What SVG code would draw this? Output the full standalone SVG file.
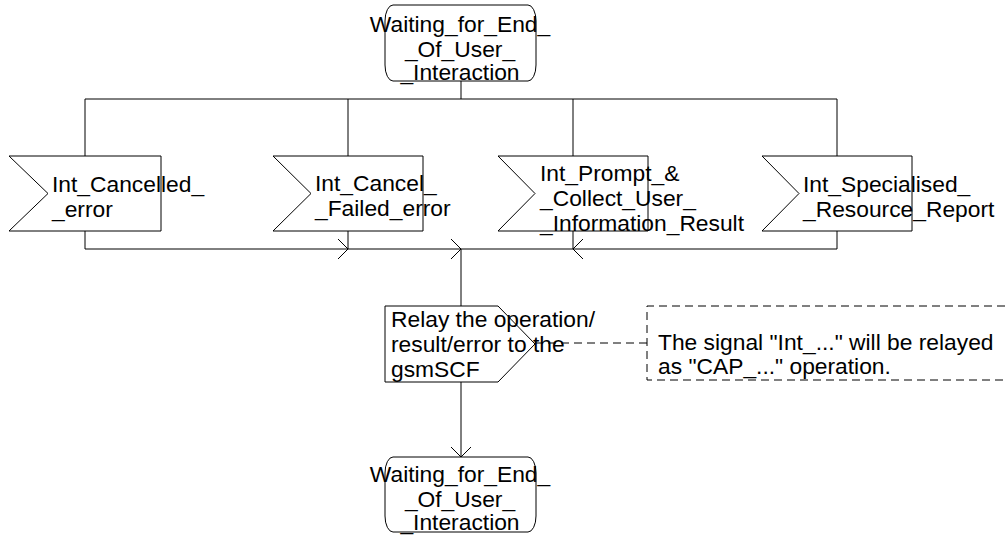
<svg xmlns="http://www.w3.org/2000/svg" width="1005" height="538" viewBox="0 0 1005 538">
<style>
.s{fill:#fff;stroke:#000;stroke-width:1}
.t{font-family:"Liberation Sans",Arial,sans-serif;font-size:22.8px;fill:#000}
.c{text-anchor:middle}
.l{fill:none;stroke:#000;stroke-width:1}
.d{fill:none;stroke:#000;stroke-width:1;stroke-dasharray:8,5}
</style>
<defs>
<marker id="arr" markerUnits="userSpaceOnUse" viewBox="0 0 22 22" markerWidth="22" markerHeight="22" refX="11" refY="11" orient="auto">
<path d="M1,1 L11,11 L1,21" fill="none" stroke="#000" stroke-width="1"/>
</marker>
</defs>
<g id="connectors">
<path class="l" d="M461,81 V99"/>
<path class="l" d="M85,99 H837"/>
<path class="l" d="M85,99 V156 M348,99 V156 M573,99 V156 M837,99 V156"/>
<path class="l" d="M85,231 V249 H348" marker-end="url(#arr)"/>
<path class="l" d="M348,231 V249 H461" marker-end="url(#arr)"/>
<path class="l" d="M837,231 V249 H573" marker-end="url(#arr)"/>
<path class="l" d="M573,231 V249 H461"/>
<path class="l" d="M461,249 V306"/>
<path class="l" d="M461,382 V457" marker-end="url(#arr)"/>
<path class="d" d="M535,343 H647"/>
</g>
<g id="state_top">
<rect class="s" x="385" y="5" width="151" height="76" rx="8" ry="16"/>
<text class="t c" x="460" y="32">Waiting_for_End_</text>
<text class="t c" x="460" y="57">_Of_User_</text>
<text class="t c" x="460" y="80">_Interaction</text>
</g>
<g id="sig_cancelled">
<polygon class="s" points="9,156 161,156 161,231 9,231 48,193.5"/>
<text class="t" x="52" y="192">Int_Cancelled_</text>
<text class="t" x="52" y="217">_error</text>
</g>
<g id="sig_cancel_failed">
<polygon class="s" points="273,156 423,156 423,231 273,231 311,193.5"/>
<text class="t" x="315" y="191">Int_Cancel_</text>
<text class="t" x="315" y="216">_Failed_error</text>
</g>
<g id="sig_prompt">
<polygon class="s" points="498,156 648,156 648,231 498,231 535,193.5"/>
<text class="t" x="540" y="181">Int_Prompt_&amp;</text>
<text class="t" x="540" y="206">_Collect_User_</text>
<text class="t" x="540" y="231">_Information_Result</text>
</g>
<g id="sig_specialised">
<polygon class="s" points="762,156 912,156 912,231 762,231 799,193.5"/>
<text class="t" x="803" y="192">Int_Specialised_</text>
<text class="t" x="803" y="217">_Resource_Report</text>
</g>
<g id="task_relay">
<polygon class="s" points="385,306 498,306 535,344 498,382 385,382"/>
<text class="t" x="391" y="327">Relay the operation/</text>
<text class="t" x="391" y="352">result/error to the</text>
<text class="t" x="391" y="377">gsmSCF</text>
</g>
<g id="comment">
<path class="d" d="M1005,306 H647 V380 H1005"/>
<text class="t" x="658" y="350">The signal "Int_..." will be relayed</text>
<text class="t" x="658" y="374">as "CAP_..." operation.</text>
</g>
<g id="state_bottom">
<rect class="s" x="385" y="457" width="151" height="75" rx="8" ry="16"/>
<text class="t c" x="460" y="482">Waiting_for_End_</text>
<text class="t c" x="460" y="507">_Of_User_</text>
<text class="t c" x="460" y="530">_Interaction</text>
</g>
</svg>
